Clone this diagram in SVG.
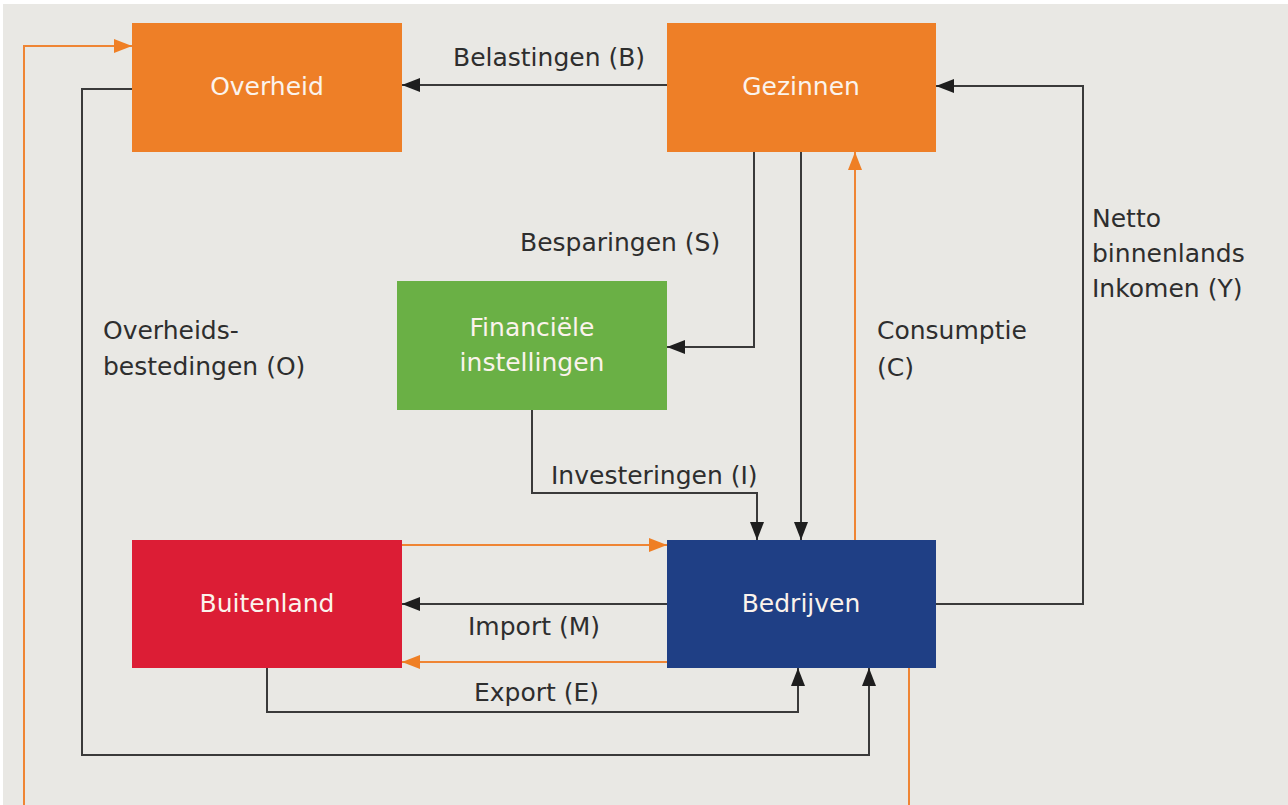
<svg xmlns="http://www.w3.org/2000/svg" width="1288" height="805" viewBox="0 0 1288 805">
<style>
.node-text{font-family:"DejaVu Sans","Liberation Sans",sans-serif;font-size:25px;fill:#FBF3EC;text-anchor:middle}
.lbl{font-family:"DejaVu Sans","Liberation Sans",sans-serif;font-size:25px;fill:#2E2E2E}
.blk{fill:none;stroke:#3A3A3A;stroke-width:2}
.org{fill:none;stroke:#EF8534;stroke-width:2}
</style>
<defs>
<marker id="ab" markerUnits="userSpaceOnUse" markerWidth="20" markerHeight="16" refX="18" refY="8" orient="auto">
<path d="M0,1 L18,8 L0,15 Z" fill="#1E1E1E"/>
</marker>
<marker id="ao" markerUnits="userSpaceOnUse" markerWidth="20" markerHeight="16" refX="18" refY="8" orient="auto">
<path d="M0,1 L18,8 L0,15 Z" fill="#EF7F25"/>
</marker>
</defs>
<rect x="0" y="0" width="1288" height="805" fill="#FFFFFF"/>
<rect x="3" y="4" width="1285" height="801" fill="#E9E8E4"/>

<g id="connectors">
<path class="blk" d="M667,85 H402" marker-end="url(#ab)"/>
<path class="blk" d="M754,152 V347 H667" marker-end="url(#ab)"/>
<path class="blk" d="M801,152 V540" marker-end="url(#ab)"/>
<path class="org" d="M855,540 V152" marker-end="url(#ao)"/>
<path class="blk" d="M936,604 H1083 V86 H936" marker-end="url(#ab)"/>
<path class="blk" d="M532,410 V493 H757 V540" marker-end="url(#ab)"/>
<path class="org" d="M402,545 H667" marker-end="url(#ao)"/>
<path class="blk" d="M667,604 H402" marker-end="url(#ab)"/>
<path class="org" d="M667,662 H402" marker-end="url(#ao)"/>
<path class="blk" d="M267,668 V712 H798 V668" marker-end="url(#ab)"/>
<path class="blk" d="M132,89 H82 V755 H869 V668" marker-end="url(#ab)"/>
<path class="org" d="M909,668 V805"/>
<path class="org" d="M24,805 V46 H132" marker-end="url(#ao)"/>
</g>

<g id="overheid">
<rect x="132" y="23" width="270" height="129" fill="#EE7F27"/>
<text class="node-text" x="267" y="95">Overheid</text>
</g>
<g id="gezinnen">
<rect x="667" y="23" width="269" height="129" fill="#EE7F27"/>
<text class="node-text" x="801" y="95">Gezinnen</text>
</g>
<g id="financiele">
<rect x="397" y="281" width="270" height="129" fill="#6AB045"/>
<text class="node-text" x="532" y="336">Financiële</text>
<text class="node-text" x="532" y="371">instellingen</text>
</g>
<g id="buitenland">
<rect x="132" y="540" width="270" height="128" fill="#DC1D35"/>
<text class="node-text" x="267" y="612">Buitenland</text>
</g>
<g id="bedrijven">
<rect x="667" y="540" width="269" height="128" fill="#1F3F85"/>
<text class="node-text" x="801" y="612">Bedrijven</text>
</g>

<g id="labels">
<text class="lbl" x="453" y="66">Belastingen (B)</text>
<text class="lbl" x="520" y="251">Besparingen (S)</text>
<text class="lbl" x="103" y="339">Overheids-</text>
<text class="lbl" x="103" y="375">bestedingen (O)</text>
<text class="lbl" x="877" y="339">Consumptie</text>
<text class="lbl" x="877" y="376">(C)</text>
<text class="lbl" x="1092" y="227">Netto</text>
<text class="lbl" x="1092" y="262">binnenlands</text>
<text class="lbl" x="1092" y="297">Inkomen (Y)</text>
<text class="lbl" x="551" y="484">Investeringen (I)</text>
<text class="lbl" x="468" y="635">Import (M)</text>
<text class="lbl" x="474" y="701">Export (E)</text>
</g>
</svg>
